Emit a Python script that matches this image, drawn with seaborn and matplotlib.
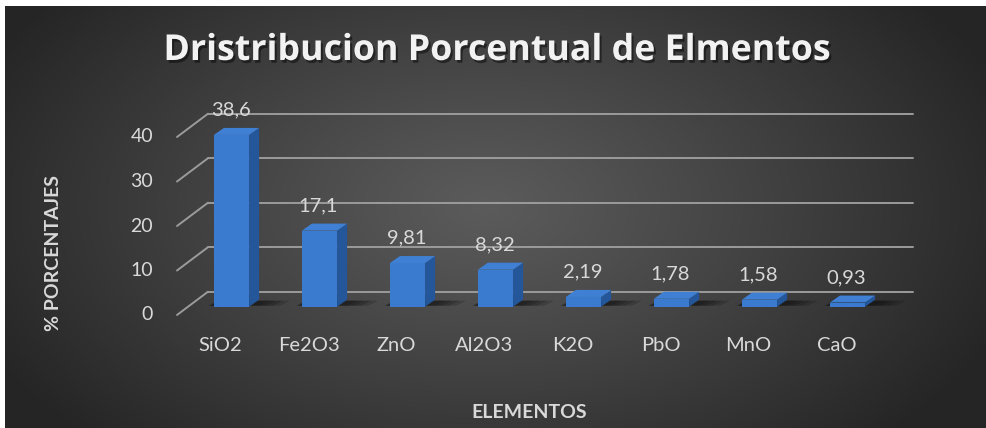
import numpy as np
import matplotlib
matplotlib.use("Agg")
import matplotlib.pyplot as plt
import seaborn as sns
import pandas as pd
from matplotlib.patches import Polygon
from matplotlib.transforms import IdentityTransform
import matplotlib.patheffects as pe

# ---------------- data ----------------
categories = ["SiO2", "Fe2O3", "ZnO", "Al2O3", "K2O", "PbO", "MnO", "CaO"]
values = [38.6, 17.1, 9.81, 8.32, 2.19, 1.78, 1.58, 0.93]
value_labels = ["38,6", "17,1", "9,81", "8,32", "2,19", "1,78", "1,58", "0,93"]
y_ticks = [0, 10, 20, 30, 40]
title = "Dristribucion Porcentual de Elmentos"
x_title = "ELEMENTOS"
y_title = "% PORCENTAJES"

sns.set_theme(style="white")
plt.rcParams["font.family"] = ["Lato", "DejaVu Sans"]

W, H = 986, 428
fig = plt.figure(figsize=(W / 100, H / 100), dpi=100)
fig.patch.set_facecolor("white")

# ---------------- background radial gradient ----------------
bg = fig.add_axes([5 / W, 0, (W - 5) / W, (H - 6) / H])
bg.set_axis_off()
gw, gh = W - 5, H - 6
yy, xx = np.mgrid[0:gh, 0:gw]
cx, cy = 480, 200
r = np.sqrt(((xx - cx) / 560.0) ** 2 + ((yy - cy) / 330.0) ** 2)
r = np.clip(r, 0, 1) ** 1.1
c_in = np.array([0x5b, 0x5b, 0x5b]) / 255
c_out = np.array([0x25, 0x25, 0x25]) / 255
img = c_in[None, None, :] * (1 - r[..., None]) + c_out[None, None, :] * r[..., None]
bg.imshow(img, aspect="auto", extent=[0, gw, gh, 0], interpolation="bilinear")
bg.set_zorder(-10)

# ---------------- main axes ----------------
px_per_unit = 4.45
ax_left, ax_base, ax_w, ax_h = 187.5, 121.3, 704.0, 200.0
ax = fig.add_axes([ax_left / W, ax_base / H, ax_w / W, ax_h / H])
ax.patch.set_alpha(0)
ax.set_xlim(-0.5, len(categories) - 0.5)
ax.set_ylim(0, ax_h / px_per_unit)
ax.set_axis_off()

df = pd.DataFrame({"cat": categories, "val": values})
front_col = "#3a7bd0"
side_col = "#24569a"
top_col = "#3f80d4"
sns.barplot(data=df, x="cat", y="val", ax=ax, width=0.4, color=front_col,
            saturation=1, edgecolor="none", zorder=5)
ax.set_xlim(-0.5, len(categories) - 0.5)
ax.set_ylim(0, ax_h / px_per_unit)

I = IdentityTransform()
T = ax.transData

# back wall grid lines and slanted floor/edge lines
back_dx, back_dy = 20.5, 15.0
front_dx, front_dy = -10.5, -8.3
grid_col = "#9b9b9b"
x0_disp = T.transform((-0.5, 0))[0]
x1_disp = T.transform((len(categories) - 0.5, 0))[0]
for v in y_ticks:
    yd = T.transform((0, v))[1]
    fig.add_artist(plt.Line2D([x0_disp + back_dx, x1_disp + back_dx + 0.5],
                              [yd + back_dy, yd + back_dy],
                              transform=I, color=grid_col, lw=1.4, zorder=1))
    fig.add_artist(plt.Line2D([x0_disp + front_dx, x0_disp + back_dx],
                              [yd + front_dy, yd + back_dy],
                              transform=I, color=grid_col, lw=1.4, zorder=1))
    fig.text(153, yd + front_dy, f"{v}", transform=I, ha="right", va="center",
             fontsize=14, color="#d9d9d9")

# bar 3D faces, shadows, labels
ddx, ddy = 10.0, 7.0
for i, p in enumerate(ax.patches[:len(categories)]):
    (xa, ya), (xb, yb) = T.transform([(p.get_x(), p.get_y()),
                                      (p.get_x() + p.get_width(), p.get_y() + p.get_height())])
    # soft shadow on the floor
    for k, a in enumerate([0.22, 0.22, 0.22, 0.2]):
        ext = 4 + 7 * k
        sh = Polygon([(xa - 3 - k, ya + 1), (xb + ext + 6, ya + 1),
                      (xb + ext + 6 + ddx, ya + ddy - 1), (xa - 3 - k + ddx, ya + ddy - 1)],
                     closed=True, transform=I, facecolor="#0d0d0d", alpha=a,
                     edgecolor="none", zorder=2)
        fig.add_artist(sh)
    side = Polygon([(xb, ya), (xb + ddx, ya + ddy), (xb + ddx, yb + ddy), (xb, yb)],
                   closed=True, transform=I, facecolor=side_col, edgecolor="none", zorder=3)
    top = Polygon([(xa, yb), (xb, yb), (xb + ddx, yb + ddy), (xa + ddx, yb + ddy)],
                  closed=True, transform=I, facecolor=top_col, edgecolor="none", zorder=3)
    fig.add_artist(side)
    fig.add_artist(top)
    cxd = (xa + xb) / 2
    fig.text(cxd - 1, yb + 25, value_labels[i], transform=I, ha="center", va="center",
             fontsize=14.5, color="#d9d9d9")
    fig.text(cxd - 11, ya - 38.5, categories[i], transform=I, ha="center", va="center",
             fontsize=14.5, color="#d9d9d9")

ax.set_zorder(4)

# titles
t = fig.text(497, H - 51, title, transform=I, ha="center", va="center",
             fontsize=22, fontweight="bold", color="#f2f2f2",
             family=["Open Sans", "DejaVu Sans"],
             path_effects=[pe.withSimplePatchShadow(offset=(1.5, -2), shadow_rgbFace="black", alpha=0.45)])
fig.canvas.draw()
bb = t.get_window_extent()
t.set_fontsize(22 * 665.0 / bb.width)

fig.text(529, H - 413, x_title, transform=I, ha="center", va="center",
         fontsize=14, fontweight="bold", color="#d9d9d9")
fig.text(54, H - 253, y_title, transform=I, ha="center", va="center", rotation=90,
         fontsize=14, fontweight="bold", color="#d9d9d9")

fig.savefig("out.png", dpi=100)
